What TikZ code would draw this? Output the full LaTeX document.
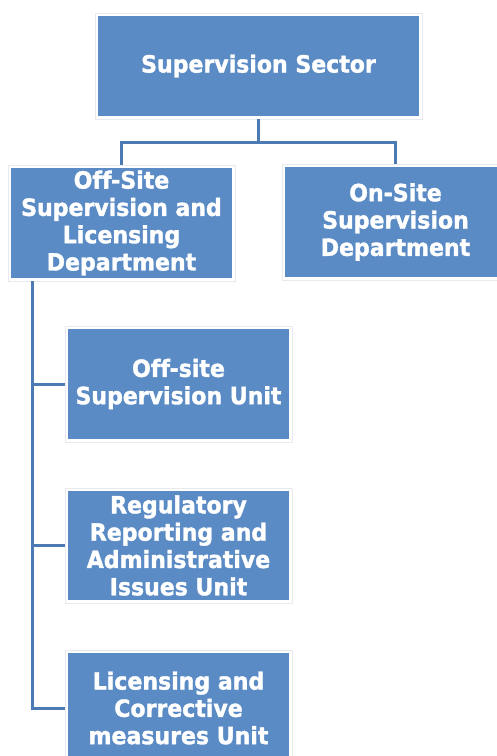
\documentclass[tikz,border=0pt]{standalone}
\usepackage{fontspec}
\setmainfont{DejaVu Sans}
\newfontfamily\orgfont{DejaVu Sans Bold}[FakeStretch=0.93, FakeBold=1.5, Ligatures=NoCommon]
\definecolor{boxblue}{RGB}{91,139,197}
\definecolor{lineblue}{RGB}{76,122,181}
\definecolor{rimgray}{RGB}{232,234,238}
\begin{document}
\begin{tikzpicture}[x=1pt,y=1pt,
  orgbox/.style={draw=rimgray, line width=0.6pt, fill=white, inner sep=0pt,
    minimum width=227pt, minimum height=116pt, align=center, text=white,
    font=\orgfont\fontsize{23.7}{27.3}\selectfont,
    path picture={\fill[boxblue] ([shift={(3pt,3pt)}]path picture bounding box.south west)
      rectangle ([shift={(-3pt,-3pt)}]path picture bounding box.north east);}},
  conn/.style={draw=lineblue, line width=3pt}]
\useasboundingbox (0,0) rectangle (497,-756);
\clip (0,0) rectangle (497,-756);
\fill[white] (0,0) rectangle (497,-756);
\node[orgbox, minimum width=327pt, minimum height=106pt] (top) at (258.5,-66) {Supervision Sector};
\node[orgbox] (off) at (121.5,-223) {Off-Site\\Supervision and\\Licensing\\Department};
\node[orgbox] (on) at (395.5,-222) {On-Site\\Supervision\\Department};
\node[orgbox] (u1) at (178.5,-384) {Off-site\\Supervision Unit};
\node[orgbox, minimum height=115pt] (u2) at (178.5,-545.5) {Regulatory\\Reporting and\\Administrative\\Issues Unit};
\node[orgbox] (u3) at (178.5,-708) {Licensing and\\Corrective\\measures Unit};
\coordinate (spine) at (32,0);
\coordinate (bus) at (0,-142);
\draw[conn] (top.south) -- (top.south |- bus) -| (off.north);
\draw[conn] (top.south |- bus) -| (on.north);
\draw[conn] (spine |- off.south) |- (u3.west);
\draw[conn] (spine |- u1.west) -- (u1.west);
\draw[conn] (spine |- u2.west) -- (u2.west);
\end{tikzpicture}
\end{document}
